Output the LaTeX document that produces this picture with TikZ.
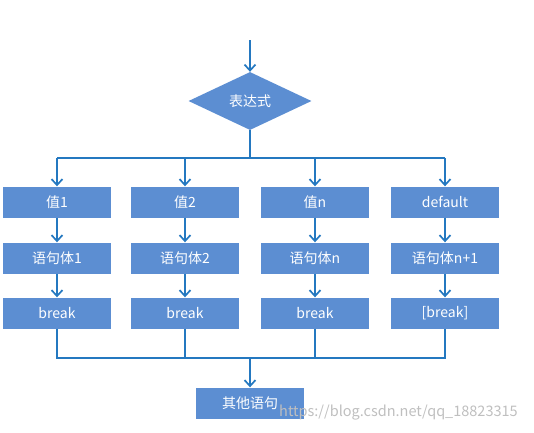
\documentclass[tikz,border=0pt]{standalone}
\usepackage{fontspec}
\setmainfont{Noto Sans CJK SC}
\usetikzlibrary{positioning,
	shapes.geometric,
	arrows.meta,
	calc}
\definecolor{boxblue}{RGB}{92,142,210}
\definecolor{lineblue}{RGB}{36,120,192}
\tikzset{
	stepbox/.style={fill=boxblue, text=white, minimum width=108pt, minimum height=31pt, inner sep=0pt, font=\fontsize{14}{16}\selectfont},
	condbox/.style={diamond, fill=boxblue, text=white, minimum width=123pt, minimum height=58pt, inner sep=0pt, font=\fontsize{14}{16}\selectfont},
	flow/.style={draw=lineblue, line width=1.7pt, -{Straight Barb[length=6pt,width=11pt,line width=1.7pt]}},
	link/.style={draw=lineblue, line width=1.7pt},
}

\begin{document}
\begin{tikzpicture}[x=1pt, y=-1pt]
	\useasboundingbox (0,0) rectangle (534,432);
	% Settings
	\coordinate (start) at (250,40);
	\coordinate (busT) at (250,158);
	\coordinate (busB) at (250,358);
	% /Settings
	\node[condbox] (expr) at (250,101) {表达式};
	\draw[flow] (start) -- (expr);
	\foreach \nm/\x/\a/\b/\c in {1/57/值1/语句体1/break,
		2/185/值2/语句体2/break,
		n/315/值n/语句体n/break,
		d/445/default/语句体n+1/{[break]}} {
		\node[stepbox] (v\nm) at (\x,202) {\a};
		\node[stepbox] (s\nm) at (\x,258) {\b};
		\node[stepbox] (b\nm) at (\x,313) {\c};
		\draw[flow] (v\nm |- busT) -- (v\nm);
		\draw[flow] (v\nm) -- (s\nm);
		\draw[flow] (s\nm) -- (b\nm);
	}
	\draw[link] (expr) -- (busT);
	\draw[link] (v1 |- busT) -- (vd |- busT);
	\draw[link] (b1) |- (bd |- busB) -- (bd);
	\draw[link] (b2) -- (b2 |- busB);
	\draw[link] (bn) -- (bn |- busB);
	\node[stepbox] (other) at (250,403) {其他语句};
	\draw[flow] (busB) -- (other);
	\node[anchor=west, text=gray!50, inner sep=0pt, font=\fontsize{14.5}{16}\selectfont] (mark) at (279,413) {https://blog.csdn.net/qq\_18823315};
\end{tikzpicture}
\end{document}
